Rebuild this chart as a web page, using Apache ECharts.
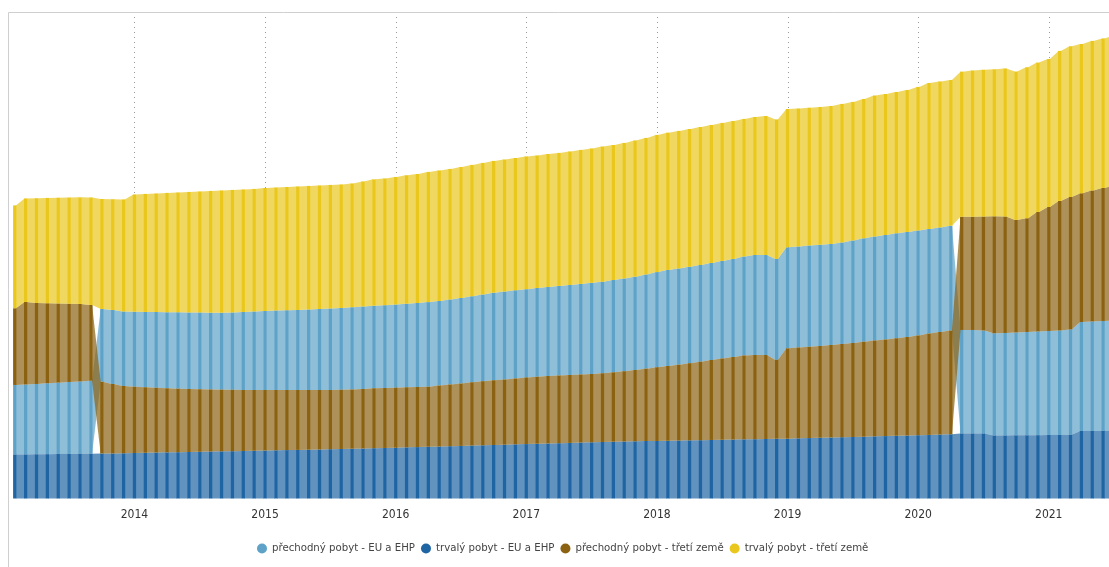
<!DOCTYPE html>
<html>
<head>
<meta charset="utf-8">
<script src="https://cdn.jsdelivr.net/npm/echarts@6/dist/echarts.min.js"></script>
<style>
html,body{margin:0;padding:0;background:#fff;}
#chart{width:1109px;height:567px;}
</style>
</head>
<body>
<div id="chart"></div>
<script>
// Months Feb 2013 .. Jul 2021
var months = [];
(function(){ var y = 2013, m = 2; for (var k = 0; k < 102; k++) { months.push(y + '-' + (m < 10 ? '0' + m : m)); m++; if (m > 12) { m = 1; y++; } } })();

var seriesNames = ['přechodný pobyt - EU a EHP', 'trvalý pobyt - EU a EHP', 'přechodný pobyt - třetí země', 'trvalý pobyt - třetí země'];
var seriesColors = ['#5FA2C8', '#1F64A3', '#8A6212', '#EAC71C'];

// values (thousands)
var prechodnyEU = [104.3,105,105.5,106.4,107,108,108.5,109.4,
109.1,111,111.8,112.5,113,113.7,114,114.6,114.8,115.2,
115.2,115.5,116,117,117.8,118.5,119.3,119.7,120,120.8,
121.5,122.3,122.7,123.5,123.8,123.8,124.2,124.8,125.3,126,
126.8,126.8,127.5,128.3,129,130.1,131.4,132,132.3,132.5,
133.2,133.5,134.3,135,135.8,136.8,137.4,138.5,139.1,140,
141.3,142.7,144,144.3,144.8,145.1,145.5,146.3,147,148.5,
150,150,151.5,151.5,151.5,152,151.8,151.5,152.3,153.8,
155.1,156,156.8,157.5,157.5,157.5,156.8,156.8,157.2,
155.3,155.3,154.5,153.3,153.8,154.4,155,155.6,156,156.8,158,163.5,164.3,164.7,165.2];

var trvalyEU = [66,66,66.3,66.5,66.8,66.8,67.1,67.2,67.5,67.5,67.8,
68.3,68.6,68.9,69.2,69.5,69.8,70.1,70.4,70.7,71,71.3,71.6,
72,72.3,72.6,72.9,73.2,73.5,74,74.3,74.7,75,75.5,75.8,
76.2,76.7,77.1,77.6,78,78.5,78.9,79.4,79.8,80.3,80.7,81.2,
81.6,82.1,82.5,83,83.4,83.9,84.3,84.8,85.2,85.5,85.8,86.3,
86.3,86.6,86.9,87.2,87.5,87.8,88.1,88.4,88.7,89,89.3,89.6,
89.7,90.2,90.6,91.1,91.5,92,92.3,92.7,93.2,93.6,94.1,94.5,95,95.4,95.9,96.3,
97.5,97.5,97.5,94.5,94.5,94.7,94.8,95,95.3,95.3,95.6,101.3,101.3,101.6,101.9];

var prechodnyTreti = [115.1,123.8,121.5,120,118.8,117.5,116.3,113.7,
107.7,104.3,101,99.5,98.3,97.2,96.2,95.3,94.5,93.8,
93.2,92.6,92.1,91.5,91.2,90.8,90.5,90.2,89.9,89.6,
89.3,88.8,88.8,88.8,89.3,89.9,90,90,90.2,90.2,
90.2,91.5,92.6,93.6,95,96.2,97.1,97.8,98.9,99.9,
100.5,101.3,101.6,101.9,102.2,102.5,103.1,104.1,105.5,107,
108.5,110.6,112.2,113.9,115.8,117.8,120,122,123.9,125.9,
126.3,126,118.2,135.6,136.4,137,137.7,138.8,139.8,141,
142.5,143.9,144.9,146.3,147.8,149.6,152.1,153.9,155.7,
170,170,171,175.5,174.8,168.8,170.6,179.3,186,194.3,198.8,193.1,196.5,199.5,201.8];

var trvalyTreti = [154.2,155.3,157.1,158,158.6,159.2,159.8,161.3,
165,166.1,168,175.8,177,177.8,179,179.7,180.8,181.5,
182.6,183.3,183.8,183.8,183.8,184.5,184.5,184.8,185.3,185.3,
185.3,185.3,185.3,185.6,187.5,189.5,190.1,191.3,192.5,193.5,
195.3,195.8,195.8,196.5,197,197.3,197.6,198,198.5,199.1,
198.8,199.5,199.5,200.3,201,201.5,202.8,202.5,203.3,204.3,
204.8,205.8,206,206.3,206.6,207,207,207,207,206.3,
207,208.5,209.3,207.5,207,206.6,206.7,207,207.8,207.8,
209,211.5,211.5,212,213,215.3,219,219,218.6,
217.5,219.3,220.1,220.5,222,222.5,226.5,224,222,225,225.8,224,224.3,224.3,225];

var yearTicks = ['2014-01','2015-01','2016-01','2017-01','2018-01','2019-01','2020-01','2021-01'];

// ribbon layout: each month ranks series by value (smallest at the bottom)
var allVals = [prechodnyEU, trvalyEU, prechodnyTreti, trvalyTreti];
var bottoms = [[],[],[],[]], tops = [[],[],[],[]];
for (var i = 0; i < months.length; i++) {
  var order = [0,1,2,3].sort(function(a, b){ return allVals[a][i] - allVals[b][i]; });
  var cum = 0;
  order.forEach(function(s){ bottoms[s][i] = cum; cum += allVals[s][i]; tops[s][i] = cum; });
}

function renderRibbon(params, api) {
  var i = api.value(0), b = api.value(1), t = api.value(2), nb = api.value(3), nt = api.value(4);
  var w = api.size([1, 0])[0];
  var cw = w * 0.3;
  var p0 = api.coord([i, b]), p1 = api.coord([i, t]);
  var color = api.visual('color');
  var children = [];
  if (!isNaN(nb) && !isNaN(nt)) {
    var q0 = api.coord([i + 1, nb]), q1 = api.coord([i + 1, nt]);
    var xa = p0[0] + cw / 2 - 0.5, xb = q0[0] - cw / 2 + 0.5;
    children.push({type: 'polygon', shape: {points: [[xa, p1[1]], [xb, q1[1]], [xb, q0[1]], [xa, p0[1]]]},
      style: {fill: color, opacity: 0.7}});
  }
  children.push({type: 'rect', shape: {x: p0[0] - cw / 2, y: p1[1], width: cw, height: p0[1] - p1[1]}, style: {fill: color}});
  return {type: 'group', children: children};
}

function renderGridLine(params, api) {
  var p = api.coord([api.value(0), 0]);
  var cs = params.coordSys;
  var x = Math.round(p[0]) + 0.5;
  return {type: 'line', shape: {x1: x, y1: cs.y, x2: x, y2: cs.y + cs.height},
    style: {stroke: '#9a9a9a', lineWidth: 1, lineDash: [1, 4]}};
}

var series = [{
  type: 'custom', z: 1, silent: true, renderItem: renderGridLine,
  encode: {x: 0}, data: yearTicks.map(function(t){ return [months.indexOf(t)]; })
}];
for (var s = 0; s < 4; s++) {
  var d = [];
  for (var k = 0; k < months.length; k++) {
    var last = k === months.length - 1;
    d.push([k, bottoms[s][k], tops[s][k], last ? '-' : bottoms[s][k + 1], last ? '-' : tops[s][k + 1]]);
  }
  series.push({
    name: seriesNames[s], type: 'custom', z: 3, renderItem: renderRibbon,
    itemStyle: {color: seriesColors[s]},
    encode: {x: 0, y: [1, 2]}, data: d
  });
}

var chart = echarts.init(document.getElementById('chart'), null, {renderer: 'canvas'});
chart.setOption({
  animation: false,
  textStyle: {fontFamily: "'Liberation Sans Narrow','DejaVu Sans Condensed','Liberation Sans',sans-serif"},
  graphic: [
    {type: 'line', z: 10, shape: {x1: 8.5, y1: 12.5, x2: 1109, y2: 12.5}, style: {stroke: '#cfcfcf', lineWidth: 1}, silent: true},
    {type: 'line', z: 10, shape: {x1: 8.5, y1: 12.5, x2: 8.5, y2: 567}, style: {stroke: '#cfcfcf', lineWidth: 1}, silent: true}
  ],
  grid: {left: 9.3, width: 1110.2, top: 12, bottom: 68.5, containLabel: false, outerBoundsMode: 'none'},
  xAxis: {
    type: 'category', data: months, boundaryGap: true,
    axisLine: {show: false}, axisTick: {show: false}, splitLine: {show: false},
    axisLabel: {
      interval: function(idx, val){ return val.slice(5) === '01'; },
      formatter: function(val){ return val.slice(0, 4); },
      color: '#333', fontSize: 12, margin: 10
    }
  },
  yAxis: {type: 'value', min: 0, max: 729.75, show: false, splitLine: {show: false}},
  legend: {
    data: seriesNames, left: 252, top: 538, icon: 'circle',
    itemWidth: 10, itemHeight: 10, itemGap: 6,
    textStyle: {color: '#444', fontSize: 11.3}
  },
  series: series
});
</script>
</body>
</html>
